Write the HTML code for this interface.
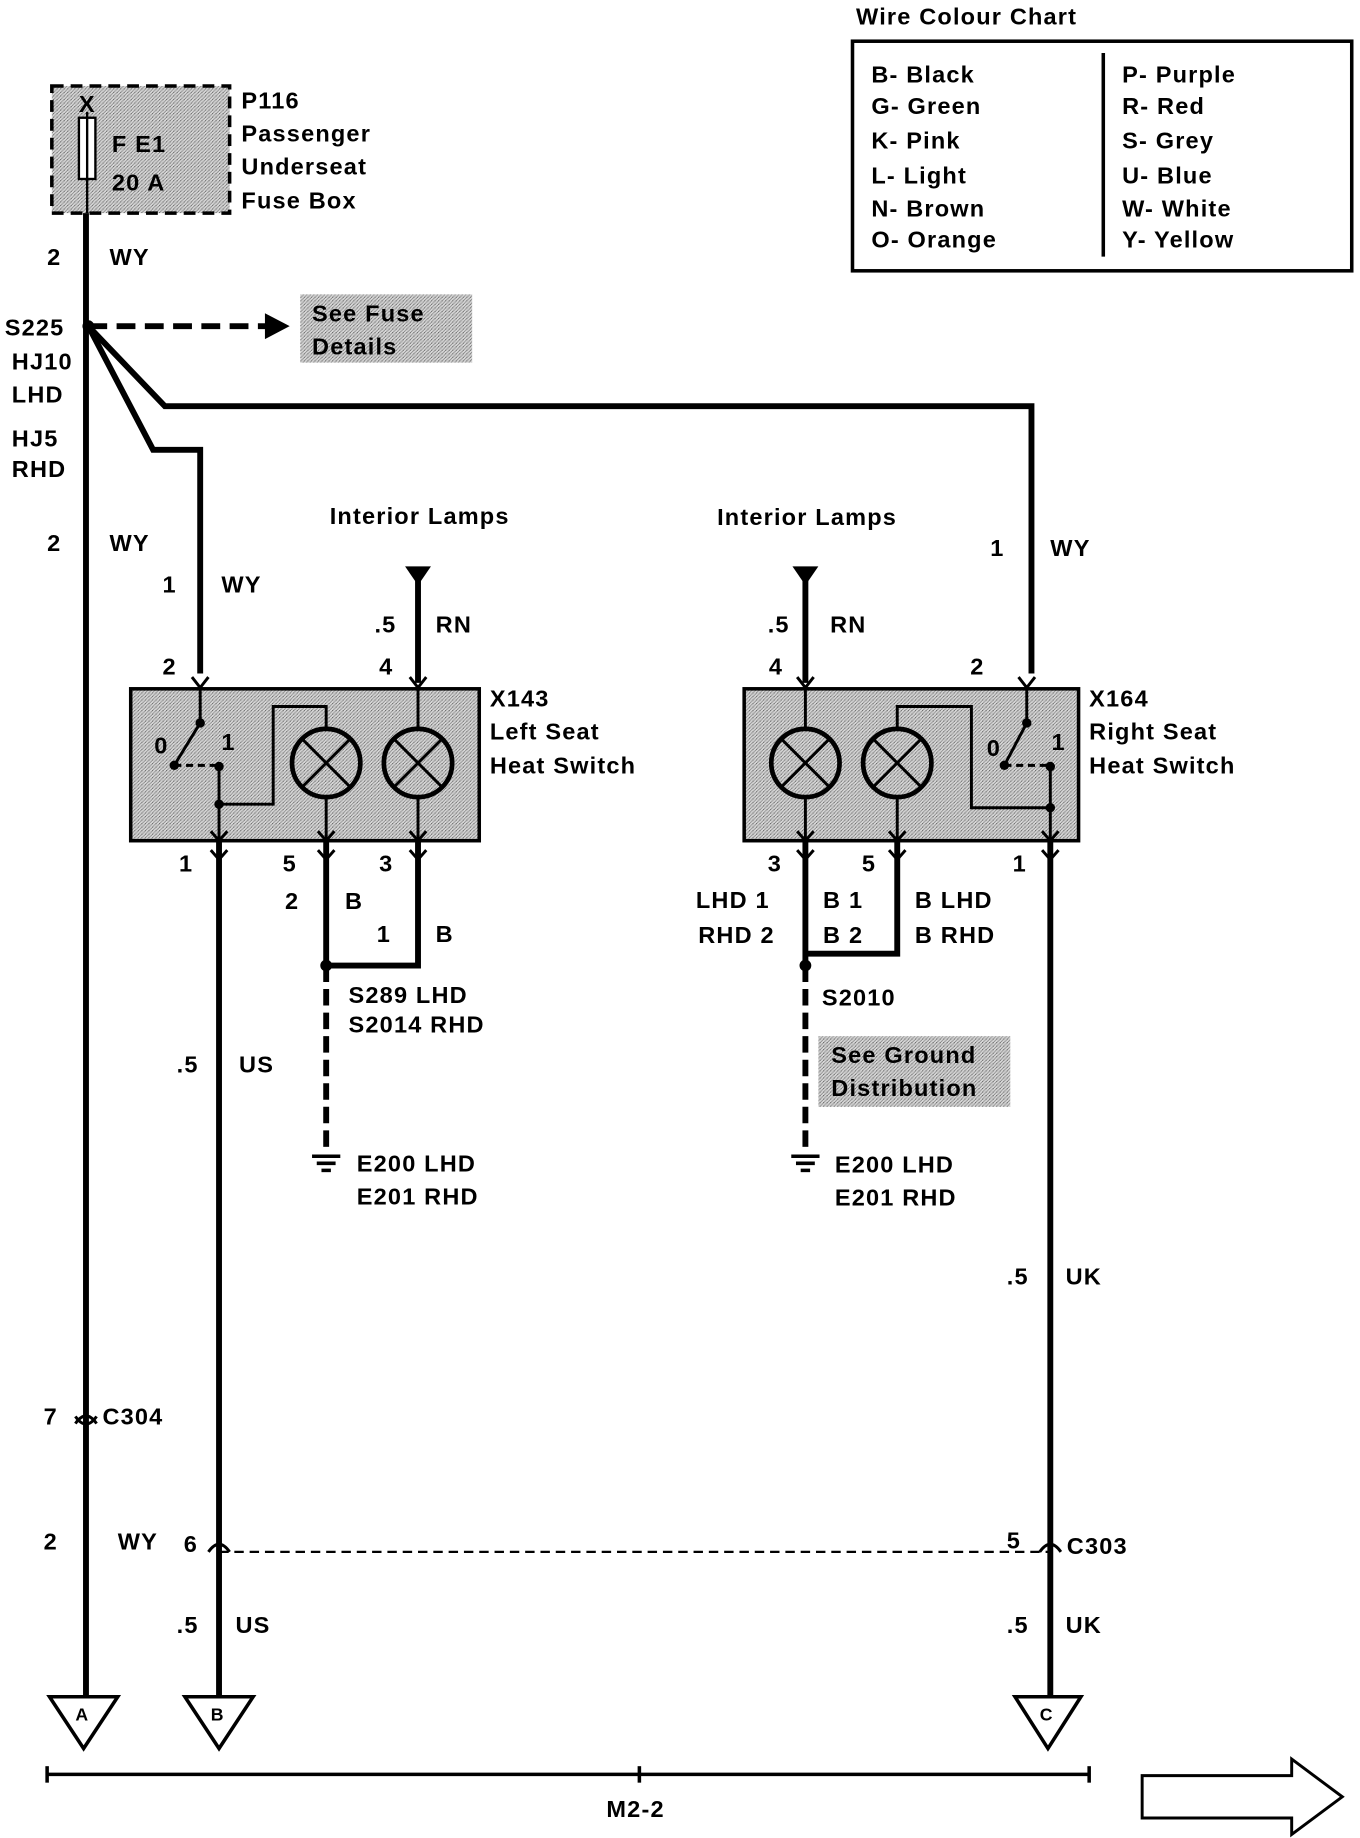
<!DOCTYPE html>
<html><head><meta charset="utf-8"><style>
html,body{margin:0;padding:0;background:#fff;}
svg{display:block;}
text{font-family:"Liberation Sans",sans-serif;font-weight:bold;font-size:20px;fill:#000;letter-spacing:1px;}
</style></head><body>
<svg width="1360" height="1838" viewBox="0 0 1155 1561" xmlns="http://www.w3.org/2000/svg">
<defs>
<pattern id="st" width="3" height="3" patternUnits="userSpaceOnUse">
<rect width="3" height="3" fill="#d8d8d8"/><rect width="1" height="1" fill="#666"/><rect x="2" y="1" width="1" height="1" fill="#888"/><rect x="1" y="2" width="1" height="1" fill="#888"/>
</pattern>
</defs>
<text x="727" y="21">Wire Colour Chart</text>
<rect x="724" y="35" width="424" height="195" fill="none" stroke="#000" stroke-width="3"/>
<line x1="937" y1="45" x2="937" y2="218" stroke="#000" stroke-width="3"/>
<g>
<text x="740" y="70">B- Black</text><text x="740" y="97">G- Green</text><text x="740" y="126">K- Pink</text>
<text x="740" y="156">L- Light</text><text x="740" y="184">N- Brown</text><text x="740" y="210">O- Orange</text>
<text x="953" y="70">P- Purple</text><text x="953" y="97">R- Red</text><text x="953" y="126">S- Grey</text>
<text x="953" y="156">U- Blue</text><text x="953" y="184">W- White</text><text x="953" y="210">Y- Yellow</text>
</g>
<rect x="44" y="73" width="151" height="108" fill="url(#st)" stroke="#000" stroke-width="3" stroke-dasharray="10,6"/>
<rect x="67" y="100" width="14" height="52" fill="#fff" stroke="#000" stroke-width="2"/>
<line x1="74" y1="95" x2="74" y2="181" stroke="#000" stroke-width="2"/>
<text x="67" y="95">X</text><text x="95" y="129">F E1</text><text x="95" y="162">20 A</text>
<text x="205" y="92">P116</text><text x="205" y="120">Passenger</text><text x="205" y="148">Underseat</text><text x="205" y="177">Fuse Box</text>
<g stroke="#000" stroke-width="5" fill="none">
<line x1="73" y1="181" x2="73" y2="1445"/>
<polyline points="75,277 140,345 876,345 876,572"/>
<polyline points="75,277 130,382 170,382 170,572"/>
<line x1="355" y1="490" x2="355" y2="580"/>
<line x1="684" y1="490" x2="684" y2="580"/>
<polyline points="277,714 277,820 355,820 355,714"/>
<polyline points="684,714 684,810 684,820"/>
<polyline points="762,714 762,810 684,810"/>
<line x1="186" y1="714" x2="186" y2="1445"/>
<line x1="892" y1="714" x2="892" y2="1445"/>
<line x1="277" y1="820" x2="277" y2="980" stroke-dasharray="14,6"/>
<line x1="684" y1="820" x2="684" y2="980" stroke-dasharray="14,6"/>
<line x1="75" y1="277" x2="228" y2="277" stroke-dasharray="16,8"/>
</g>
<polygon points="225,266 246,277 225,288" fill="#000"/>
<circle cx="75" cy="277" r="5" fill="#000"/>
<circle cx="277" cy="820" r="5" fill="#000"/>
<circle cx="684" cy="820" r="5" fill="#000"/>
<rect x="255" y="250" width="146" height="58" fill="url(#st)"/>
<text x="265" y="273">See Fuse</text><text x="265" y="301">Details</text>
<text x="4" y="285">S225</text><text x="10" y="314">HJ10</text><text x="10" y="342">LHD</text>
<text x="10" y="379">HJ5</text><text x="10" y="405">RHD</text>
<text x="40" y="225">2</text><text x="93" y="225">WY</text>
<text x="40" y="468">2</text><text x="93" y="468">WY</text>
<text x="138" y="503">1</text><text x="188" y="503">WY</text>
<text x="841" y="472">1</text><text x="892" y="472">WY</text>
<text x="280" y="445">Interior Lamps</text><text x="609" y="446">Interior Lamps</text>
<polygon points="344,481 366,481 355,497" fill="#000"/>
<polygon points="673,481 695,481 684,497" fill="#000"/>
<text x="318" y="537">.5</text><text x="370" y="537">RN</text>
<text x="652" y="537">.5</text><text x="705" y="537">RN</text>
<text x="138" y="573">2</text><text x="322" y="573">4</text><text x="653" y="573">4</text><text x="824" y="573">2</text>
<rect x="111" y="585" width="296" height="129" fill="url(#st)" stroke="#000" stroke-width="3"/>
<g stroke="#000" stroke-width="2.5" fill="none">
<polyline points="163,575 170,584 177,575"/><polyline points="348,575 355,584 362,575"/>
<line x1="170" y1="585" x2="170" y2="614"/><line x1="170" y1="614" x2="148" y2="650"/>
<line x1="148" y1="650" x2="183" y2="650" stroke-dasharray="6,4"/>
<polyline points="186,651 186,714"/><polyline points="186,683 232,683 232,600 277,600 277,619"/>
<circle cx="277" cy="648" r="29" stroke-width="4"/><line x1="257" y1="628" x2="297" y2="668"/><line x1="297" y1="628" x2="257" y2="668"/>
<circle cx="355" cy="648" r="29" stroke-width="4"/><line x1="335" y1="628" x2="375" y2="668"/><line x1="375" y1="628" x2="335" y2="668"/>
<line x1="355" y1="585" x2="355" y2="619"/><line x1="277" y1="677" x2="277" y2="714"/><line x1="355" y1="677" x2="355" y2="714"/>
<polyline points="179,706 186,714 193,706"/><polyline points="270,706 277,714 284,706"/><polyline points="348,706 355,714 362,706"/>
<polyline points="179,722 186,730 193,722"/><polyline points="270,722 277,730 284,722"/><polyline points="348,722 355,730 362,722"/>
</g>
<circle cx="170" cy="614" r="4"/><circle cx="148" cy="650" r="4"/><circle cx="186" cy="651" r="4"/><circle cx="186" cy="683" r="4"/>
<text x="131" y="640">0</text><text x="188" y="637">1</text>
<text x="416" y="600">X143</text><text x="416" y="628">Left Seat</text><text x="416" y="657">Heat Switch</text>
<rect x="632" y="585" width="284" height="129" fill="url(#st)" stroke="#000" stroke-width="3"/>
<g stroke="#000" stroke-width="2.5" fill="none">
<polyline points="865,575 872,584 879,575"/><polyline points="677,575 684,584 691,575"/>
<line x1="872" y1="585" x2="872" y2="614"/><line x1="872" y1="614" x2="853" y2="650"/>
<line x1="853" y1="650" x2="890" y2="650" stroke-dasharray="6,4"/>
<polyline points="892,651 892,714"/><polyline points="892,686 825,686 825,600 762,600 762,619"/>
<circle cx="684" cy="648" r="29" stroke-width="4"/><line x1="664" y1="628" x2="704" y2="668"/><line x1="704" y1="628" x2="664" y2="668"/>
<circle cx="762" cy="648" r="29" stroke-width="4"/><line x1="742" y1="628" x2="782" y2="668"/><line x1="782" y1="628" x2="742" y2="668"/>
<line x1="684" y1="585" x2="684" y2="619"/><line x1="684" y1="677" x2="684" y2="714"/><line x1="762" y1="677" x2="762" y2="714"/>
<polyline points="677,706 684,714 691,706"/><polyline points="755,706 762,714 769,706"/><polyline points="885,706 892,714 899,706"/>
<polyline points="677,722 684,730 691,722"/><polyline points="755,722 762,730 769,722"/><polyline points="885,722 892,730 899,722"/>
</g>
<circle cx="872" cy="614" r="4"/><circle cx="853" cy="650" r="4"/><circle cx="892" cy="651" r="4"/><circle cx="892" cy="686" r="4"/>
<text x="838" y="642">0</text><text x="893" y="637">1</text>
<text x="925" y="600">X164</text><text x="925" y="628">Right Seat</text><text x="925" y="657">Heat Switch</text>
<text x="152" y="740">1</text><text x="240" y="740">5</text><text x="322" y="740">3</text>
<text x="652" y="740">3</text><text x="732" y="740">5</text><text x="860" y="740">1</text>
<text x="242" y="772">2</text><text x="293" y="772">B</text><text x="320" y="800">1</text><text x="370" y="800">B</text>
<text x="591" y="771">LHD 1</text><text x="699" y="771">B 1</text><text x="777" y="771">B LHD</text>
<text x="593" y="801">RHD 2</text><text x="699" y="801">B 2</text><text x="777" y="801">B RHD</text>
<text x="296" y="852">S289 LHD</text><text x="296" y="877">S2014  RHD</text>
<text x="698" y="854">S2010</text>
<rect x="695" y="880" width="163" height="60" fill="url(#st)"/>
<text x="706" y="903">See Ground</text><text x="706" y="931">Distribution</text>
<g stroke="#000" stroke-width="3"><line x1="265" y1="982" x2="289" y2="982"/><line x1="269" y1="988" x2="285" y2="988"/><line x1="273" y1="994" x2="281" y2="994"/>
<line x1="672" y1="982" x2="696" y2="982"/><line x1="676" y1="988" x2="692" y2="988"/><line x1="680" y1="994" x2="688" y2="994"/></g>
<text x="303" y="995">E200 LHD</text><text x="303" y="1023">E201 RHD</text>
<text x="709" y="996">E200 LHD</text><text x="709" y="1024">E201 RHD</text>
<text x="150" y="911">.5</text><text x="203" y="911">US</text>
<text x="855" y="1091">.5</text><text x="905" y="1091">UK</text>
<g stroke="#000" stroke-width="2.5" fill="none">
<path d="M64,1209 Q73,1196 82,1209"/><path d="M64,1203 Q73,1216 82,1203" />
<path d="M177,1318 Q186,1305 195,1318"/><path d="M883,1318 Q892,1305 901,1318"/>
<line x1="186" y1="1318" x2="892" y2="1318" stroke-dasharray="8,5" stroke-width="2"/>
</g>
<text x="37" y="1210">7</text><text x="87" y="1210">C304</text>
<text x="37" y="1316">2</text><text x="100" y="1316">WY</text><text x="156" y="1318">6</text>
<text x="855" y="1315">5</text><text x="906" y="1320">C303</text>
<text x="150" y="1387">.5</text><text x="200" y="1387">US</text>
<text x="855" y="1387">.5</text><text x="905" y="1387">UK</text>
<g stroke="#000" stroke-width="3" fill="#fff">
<polygon points="42,1441 100,1441 71,1485"/><polygon points="157,1441 215,1441 186,1485"/><polygon points="862,1441 918,1441 890,1485"/>
</g>
<text x="64" y="1461" style="font-size:15px">A</text><text x="179" y="1461" style="font-size:15px">B</text><text x="883" y="1461" style="font-size:15px">C</text>
<g stroke="#000" stroke-width="3"><line x1="40" y1="1507" x2="925" y2="1507"/><line x1="40" y1="1500" x2="40" y2="1514"/><line x1="925" y1="1500" x2="925" y2="1514"/><line x1="543" y1="1500" x2="543" y2="1514"/></g>
<text x="515" y="1543">M2-2</text>
<polygon points="970,1508 1097,1508 1097,1494 1140,1526 1097,1558 1097,1544 970,1544" fill="#fff" stroke="#000" stroke-width="2.5"/>
</svg>
</body></html>
